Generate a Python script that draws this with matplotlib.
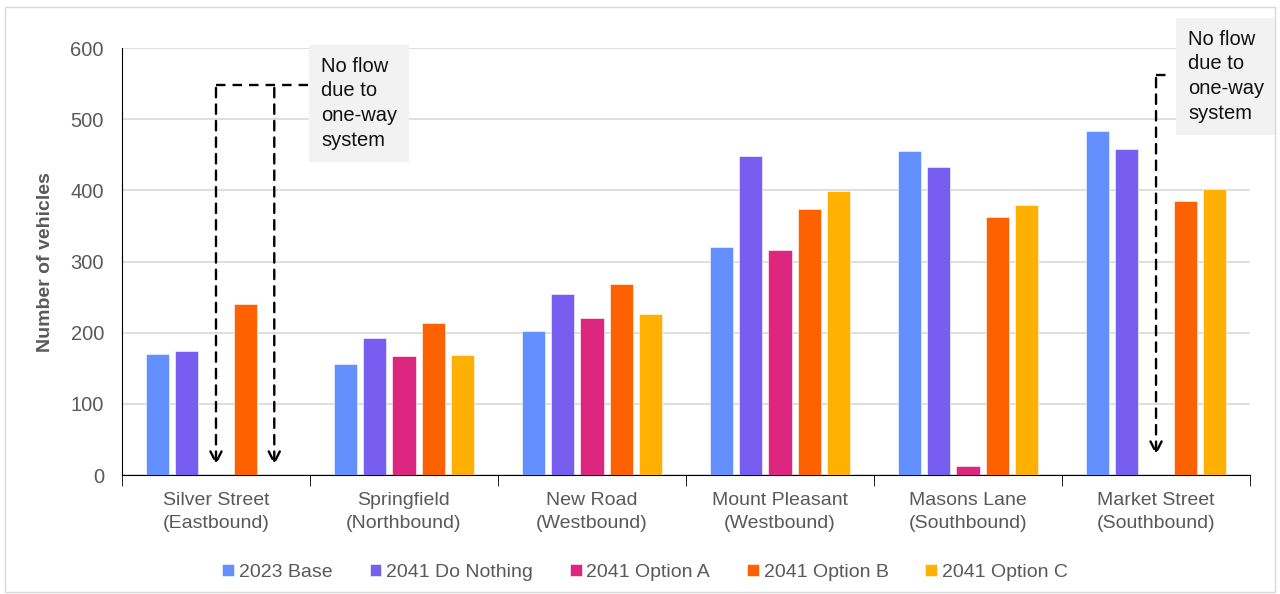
import matplotlib
matplotlib.use("Agg")
from matplotlib import pyplot as plt
from matplotlib.patches import Rectangle
import numpy as np

plt.rcParams['font.family'] = ['Liberation Sans', 'DejaVu Sans']

# locations (x axis)
roads = ['Silver Street\n(Eastbound)', 'Springfield\n(Northbound)', 'New Road\n(Westbound)',
         'Mount Pleasant\n(Westbound)', 'Masons Lane\n(Southbound)', 'Market Street\n(Southbound)']
scenarios = ['2023 Base', '2041 Do Nothing', '2041 Option A', '2041 Option B', '2041 Option C']
colours = ['#648FFF', '#785EF0', '#DC267F', '#FE6100', '#FFB000']

# None = no flow (one-way system)
base_2023 = [170, 156, 202, 320, 455, 483]
do_nothing_2041 = [174, 192, 254, 448, 433, 458]
option_a_2041 = [None, 167, 220, 316, 12, None]
option_b_2041 = [240, 213, 268, 374, 363, 385]
option_c_2041 = [None, 168, 227, 399, 380, 402]
series = [base_2023, do_nothing_2041, option_a_2041, option_b_2041, option_c_2041]

fig = plt.figure(figsize=(12.8, 5.94), dpi=100)
ax = fig.add_axes([0.0953, 0.2003, 0.8813, 0.7187])

x = np.arange(len(roads))
step = 0.155
width = 0.123
for i, (name, vals, col) in enumerate(zip(scenarios, series, colours)):
    v = [np.nan if a is None else a for a in vals]
    ax.bar(x + (i - 2) * step, v, width, color=col, label=name,
           edgecolor='white', linewidth=0.4, zorder=3)

ax.set_xlim(-0.5, len(roads) - 0.5)
ax.set_ylim(0, 600)
ax.set_yticks(range(0, 601, 100))
ax.grid(axis='y', color='#d9d9d9', linewidth=1.2, zorder=0)
ax.spines['top'].set_visible(False)
ax.spines['right'].set_visible(False)
ax.spines['left'].set_color('black')
ax.spines['bottom'].set_color('black')
ax.tick_params(axis='y', length=0, labelsize=14.5, labelcolor='#595959', pad=13)
ax.set_xticks(x)
ax.set_xticklabels(roads, fontsize=14, color='#595959', linespacing=1.45)
ax.tick_params(axis='x', length=0, pad=12)
ax.set_xticks(np.arange(-0.5, len(roads)), minor=True)
ax.tick_params(axis='x', which='minor', length=8, color='black', direction='out')
ax.set_ylabel('Number of vehicles', fontsize=14, fontweight='bold', color='#595959', labelpad=12)

# annotation: Silver Street
dash = dict(color='black', linestyle=(0, (4, 3)), linewidth=1.7)
arrow = dict(arrowstyle='->', color='black', linestyle=(0, (4, 3)),
             linewidth=1.7, mutation_scale=20)
xa = x[0] + 0 * step
xc = x[0] + 2 * step
ax.plot([xa, 0.5], [548, 548], clip_on=False, **dash)
for xx in (xa, xc):
    ax.annotate('', xy=(xx, 10), xytext=(xx, 548), arrowprops=arrow)
ax.text(0.56, 588, 'No flow\ndue to\none-way\nsystem', fontsize=14.5, va='top', ha='left',
        linespacing=1.38, color='#111111',
        bbox=dict(boxstyle='square,pad=0.6', facecolor='#f2f2f2', edgecolor='none'), zorder=5)

# annotation: Market Street
xm = x[5]
ax.plot([xm, xm + 0.07], [562, 562], clip_on=False, **dash)
ax.annotate('', xy=(xm, 24), xytext=(xm, 562), arrowprops=arrow)
ax.text(5.17, 626, 'No flow\ndue to\none-way\nsystem', fontsize=14.5, va='top', ha='left',
        linespacing=1.38, color='#111111', clip_on=False,
        bbox=dict(boxstyle='square,pad=0.6', facecolor='#f2f2f2', edgecolor='none'), zorder=5)

leg = fig.legend(loc='center', bbox_to_anchor=(0.504, 0.037), ncol=5, frameon=False,
                 fontsize=14, handlelength=0.6, handleheight=0.6, handletextpad=0.25,
                 columnspacing=1.9, labelcolor='#595959')

fig.patches.append(Rectangle((0.004, 0.004), 0.992, 0.985, transform=fig.transFigure,
                             fill=False, edgecolor='#d9d9d9', linewidth=1))

fig.savefig('out.png', dpi=100)
